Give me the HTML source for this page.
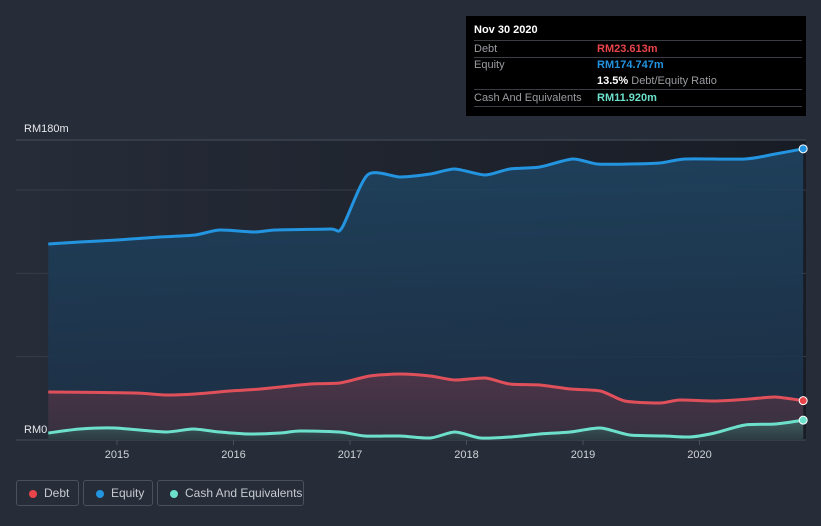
<!DOCTYPE html>
<html><head><meta charset="utf-8"><style>
body{margin:0;background:#262c38;font-family:"Liberation Sans",sans-serif;}
#wrap{position:relative;width:821px;height:526px;overflow:hidden;background:#262c38;}
.tt{position:absolute;left:466px;top:16px;width:340px;height:100px;background:#000;color:#fff;font-size:11px;}
.tt .row{position:absolute;left:8px;width:328px;border-bottom:1px solid #3a3d44;height:16px;}
.tt .lab{position:absolute;left:0;top:2px;color:#9a9ca0;}
.tt .val{position:absolute;left:123px;top:2px;font-weight:bold;}
.leg{position:absolute;top:480px;height:26px;border:1px solid #4a505c;border-radius:3px;color:#c8cad0;font-size:12px;box-sizing:border-box;}
.leg .dot{position:absolute;left:12px;top:9px;width:8px;height:8px;border-radius:50%;}
.leg span.t{position:absolute;left:27px;top:5px;white-space:nowrap;}
</style></head><body>
<div id="wrap">
<svg id="chart" width="821" height="526" style="position:absolute;left:0;top:0">
<defs>
<linearGradient id="bgg" x1="0" y1="0" x2="1" y2="0"><stop offset="0" stop-color="#262c38"/><stop offset="1" stop-color="#181c25"/></linearGradient>
<linearGradient id="eqg" x1="0" y1="0" x2="0" y2="1"><stop offset="0" stop-color="#1f4360" stop-opacity="0.9"/><stop offset="1" stop-color="#1c2f45" stop-opacity="0.9"/></linearGradient>
<linearGradient id="dbg" x1="0" y1="0" x2="0" y2="1"><stop offset="0" stop-color="#4c3548"/><stop offset="1" stop-color="#35303f"/></linearGradient>
<linearGradient id="csg" x1="0" y1="0" x2="0" y2="1"><stop offset="0" stop-color="#3f5e5e"/><stop offset="1" stop-color="#2c3a42"/></linearGradient>
</defs>
<rect x="16" y="140" width="790" height="300" fill="url(#bgg)"/>
<g id="grid"></g><g id="series"></g><g id="axis"></g>
</svg>
<div class="tt">
<div style="position:absolute;left:8px;top:8px;font-weight:bold;">Nov 30 2020</div>
<div class="row" style="top:24px;border-top:1px solid #3a3d44;"><span class="lab">Debt</span><span class="val" style="color:#e9444a">RM23.613m</span></div>
<div class="row" style="top:41px;border-bottom:none;"><span class="lab">Equity</span><span class="val" style="color:#2394e0">RM174.747m</span></div>
<div class="row" style="top:57px;"><span class="val" style="color:#fff">13.5% <span style="color:#9a9ca0;font-weight:normal">Debt/Equity Ratio</span></span></div>
<div class="row" style="top:74px;"><span class="lab">Cash And Equivalents</span><span class="val" style="color:#6de0cc">RM11.920m</span></div>
</div>
<div class="leg" style="left:16px;width:63px"><div class="dot" style="background:#e9444a"></div><span class="t">Debt</span></div>
<div class="leg" style="left:83px;width:70px"><div class="dot" style="background:#2394e0"></div><span class="t">Equity</span></div>
<div class="leg" style="left:157px;width:147px"><div class="dot" style="background:#6de0cc"></div><span class="t">Cash And Equivalents</span></div>
</div>
<script>
const yearTicks=[2015,2016,2017,2018,2019,2020];
const yTickLabels=["RM0","RM180m"];
const equityDates=[2014.41,2014.68,2015.0,2015.37,2015.67,2015.88,2016.18,2016.36,2016.83,2016.93,2017.15,2017.43,2017.69,2017.9,2018.16,2018.37,2018.63,2018.91,2019.12,2019.4,2019.66,2019.88,2020.39,2020.65,2020.89];
const equityValues=[117.6,118.8,120,121.8,123,126,124.8,126,126.6,127.2,159,157.8,159.6,162.6,159,162.6,163.8,168.6,165.6,165.6,166.2,168.6,168.6,171.6,174.7];
const debtDates=[2014.41,2015.15,2015.41,2015.67,2015.97,2016.23,2016.66,2016.91,2017.17,2017.43,2017.69,2017.9,2018.16,2018.37,2018.63,2018.89,2019.15,2019.36,2019.66,2019.83,2020.13,2020.43,2020.65,2020.89];
const debtValues=[28.8,28.2,27,27.6,29.4,30.6,33.6,34.2,38.4,39.6,38.4,36,37.2,33.6,33,30.6,29.4,23.4,22.2,24,23.4,24.6,25.8,23.6];
const cashDates=[2014.41,2014.68,2014.98,2015.41,2015.65,2015.88,2016.14,2016.4,2016.57,2016.91,2017.13,2017.43,2017.69,2017.9,2018.12,2018.37,2018.63,2018.89,2019.15,2019.4,2019.7,2019.92,2020.13,2020.39,2020.65,2020.89];
const cashValues=[4.2,6.6,7.2,4.8,6.6,4.8,3.6,4.2,5.4,4.8,2.4,2.4,1.2,4.8,1.2,1.8,3.6,4.8,7.2,3,2.4,1.8,4.2,9,9.6,11.9];
const NS='http://www.w3.org/2000/svg';
const X=t=>117+(t-2015)*116.5;
const Y=v=>440-v*300/180;
function el(tag,attrs,parent){const e=document.createElementNS(NS,tag);for(const k in attrs)e.setAttribute(k,attrs[k]);parent.appendChild(e);return e;}
function smooth(pts){let d='M'+pts[0][0]+','+pts[0][1];for(let i=0;i<pts.length-1;i++){const p0=pts[Math.max(0,i-1)],p1=pts[i],p2=pts[i+1],p3=pts[Math.min(pts.length-1,i+2)];const k=8;const c1=[p1[0]+(p2[0]-p0[0])/k,p1[1]+(p2[1]-p0[1])/k],c2=[p2[0]-(p3[0]-p1[0])/k,p2[1]-(p3[1]-p1[1])/k];d+=' C'+c1[0]+','+c1[1]+' '+c2[0]+','+c2[1]+' '+p2[0]+','+p2[1];}return d;}
const grid=document.getElementById('grid'),ser=document.getElementById('series'),ax=document.getElementById('axis');
[0,50,100,150,180].forEach(v=>{const l=el('line',{x1:16,x2:806,y1:Y(v),y2:Y(v),stroke:v==180||v==0?'#4a4f5a':'#363c48','stroke-width':1},grid);

});
yearTicks.forEach(t=>{const tk=el('line',{x1:X(t),x2:X(t),y1:440,y2:445,stroke:'#4a4f5a'},ax);


const tx=el('text',{x:X(t),y:458,fill:'#d0d2d6','font-size':11,'text-anchor':'middle','font-family':'Liberation Sans, sans-serif'},ax);tx.textContent=t;

});
[[0,Y(0)-7],[1,Y(180)-8]].forEach(([i,y])=>{const tx=el('text',{x:24,y:y,fill:'#e6e8ea','font-size':11,'font-family':'Liberation Sans, sans-serif'},ax);tx.textContent=yTickLabels[i];

});
function series(name,dates,vals,color,fill){const pts=dates.map((d,i)=>[X(d),Y(vals[i])]);const line=smooth(pts);
const a=el('path',{d:line+' L'+pts[pts.length-1][0]+',440 L'+pts[0][0]+',440 Z',fill:fill},ser);


const l=el('path',{d:line,fill:'none',stroke:color,'stroke-width':3,'stroke-linejoin':'round'},ser);


return pts[pts.length-1];}
const pe=series('equity',equityDates,equityValues,'#2394e0','url(#eqg)');
const pd=series('debt',debtDates,debtValues,'#e0505a','url(#dbg)');
const pc=series('cash',cashDates,cashValues,'#6de0cc','url(#csg)');
[[pe,'#2394e0','equity'],[pd,'#e9444a','debt'],[pc,'#6de0cc','cash']].forEach(([p,c,n])=>{const m=el('circle',{cx:p[0],cy:p[1],r:4,fill:c,stroke:'#fff','stroke-width':1},ser);

});
</script>
</body></html>
